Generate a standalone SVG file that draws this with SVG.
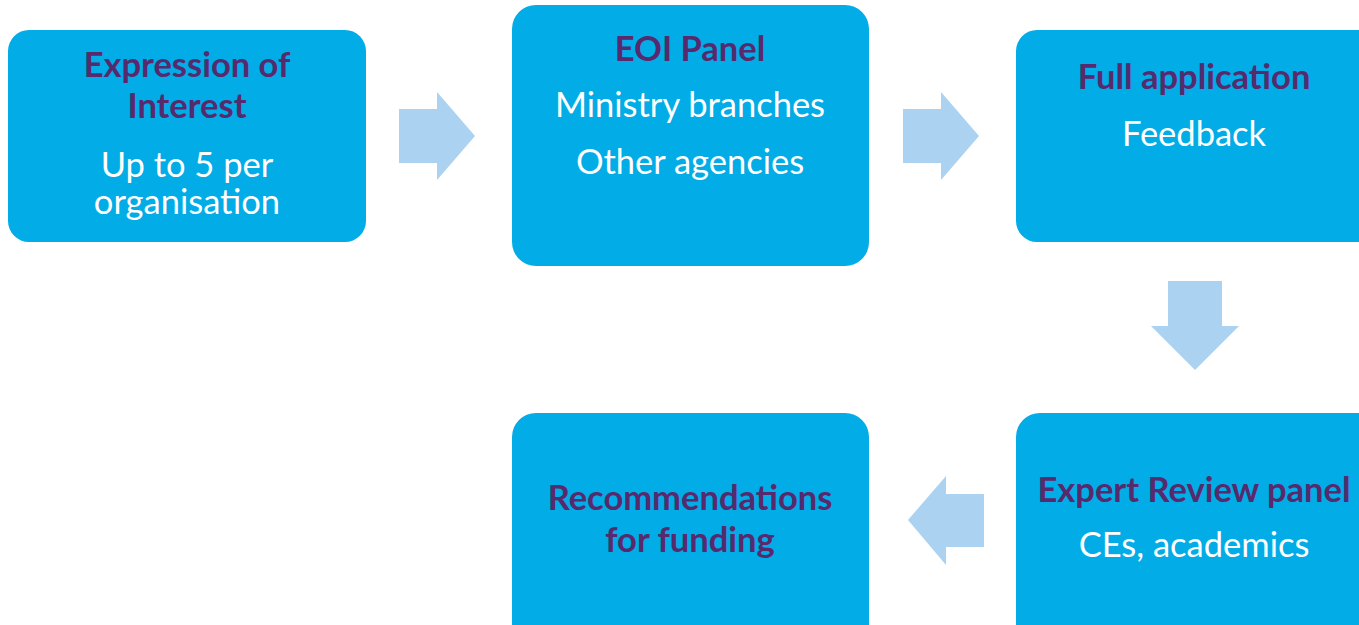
<svg xmlns="http://www.w3.org/2000/svg" width="1359" height="625" viewBox="0 0 1359 625">
<style>
.box{fill:#02ACE6}
.arr{fill:#ABD2F1}
.t{font-family:Lato,"Open Sans","Liberation Sans",sans-serif;font-weight:700;fill:#572A6D;font-size:34.5px;text-anchor:middle}
.s{font-family:Lato,"Open Sans","Liberation Sans",sans-serif;fill:#FFFFFF;font-size:34.5px;text-anchor:middle}
</style>
<rect width="1359" height="625" fill="#FFFFFF"/>
<g id="node-eoi">
<rect class="box" x="8" y="30" width="358" height="212" rx="21"/>
<text class="t" x="187" y="77">Expression of</text>
<text class="t" x="187" y="118">Interest</text>
<text class="s" x="187" y="177">Up to 5 per</text>
<text class="s" x="187" y="214">organisation</text>
</g>
<g id="node-panel">
<rect class="box" x="512" y="5" width="357" height="261" rx="24"/>
<text class="t" x="690" y="61">EOI Panel</text>
<text class="s" x="690" y="117">Ministry branches</text>
<text class="s" x="690" y="174">Other agencies</text>
</g>
<g id="node-full">
<rect class="box" x="1016" y="30" width="380" height="212" rx="21"/>
<text class="t" x="1194" y="89">Full application</text>
<text class="s" x="1194" y="146">Feedback</text>
</g>
<g id="node-expert">
<rect class="box" x="1016" y="413" width="380" height="250" rx="24"/>
<text class="t" x="1194" y="502">Expert Review panel</text>
<text class="s" x="1194" y="557">CEs, academics</text>
</g>
<g id="node-rec">
<rect class="box" x="512" y="413" width="357" height="250" rx="24"/>
<text class="t" x="690" y="510">Recommendations</text>
<text class="t" x="690" y="552">for funding</text>
</g>
<g id="connectors">
<polygon class="arr" points="399,109 437,109 437,92 475,136 437,180 437,163 399,163"/>
<polygon class="arr" points="903,109 941,109 941,92 979,136 941,180 941,163 903,163"/>
<polygon class="arr" points="1168,281 1222,281 1222,326 1239,326 1195,370 1151,326 1168,326"/>
<polygon class="arr" points="984,494 946,494 946,476 908,520 946,565 946,547 984,547"/>
</g>
</svg>
